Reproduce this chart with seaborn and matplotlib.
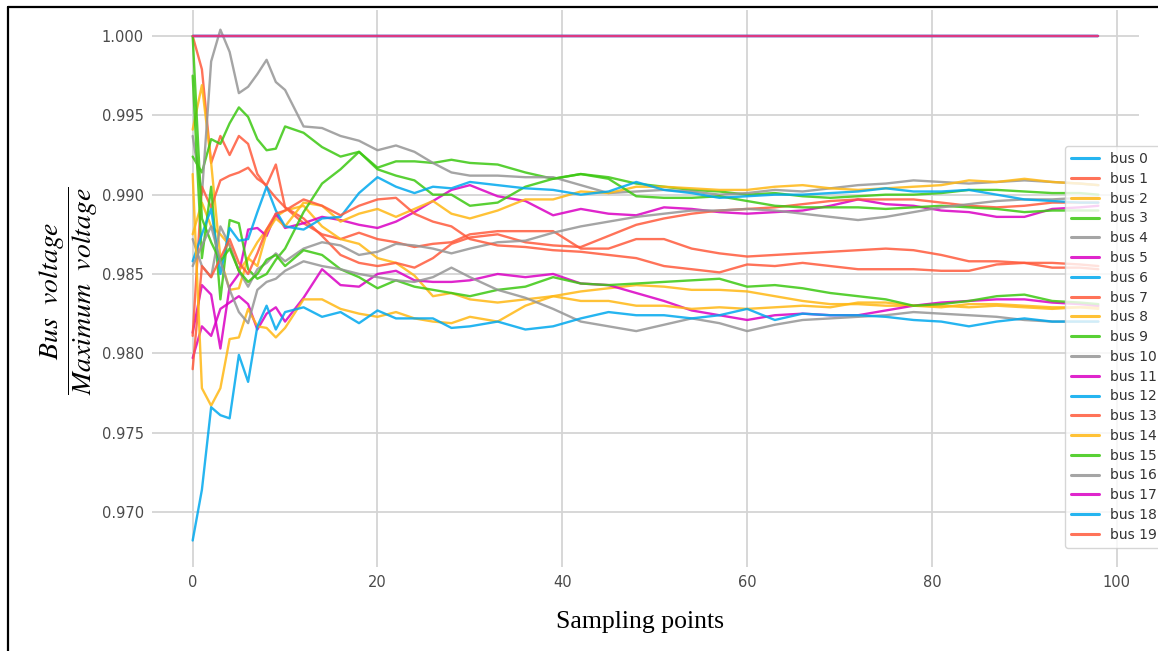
import matplotlib
matplotlib.use("Agg")
import matplotlib.pyplot as plt
import seaborn as sns
import numpy as np
import pandas as pd
from matplotlib.lines import Line2D

# ---------------- data ----------------
SAMPLES = [0, 1, 2, 3, 4, 5, 6, 7, 8, 9, 10,
           12, 14, 16, 18, 20, 22, 24, 26, 28, 30,
           33, 36, 39, 42, 45, 48, 51, 54, 57, 60, 63, 66, 69, 72, 75, 78,
           81, 84, 87, 90, 93, 96, 98]

# slack / fixed-voltage buses sit on 1.000 for the whole run
SLACK_LEVEL = [1.000, 1.000, 1.000, 1.000, 1.000, 1.000, 1.000, 1.000, 1.000, 1.000, 1.000,
               1.000, 1.000, 1.000, 1.000, 1.000, 1.000, 1.000, 1.000, 1.000, 1.000,
               1.000, 1.000, 1.000, 1.000, 1.000, 1.000, 1.000, 1.000, 1.000, 1.000, 1.000,
               1.000, 1.000, 1.000, 1.000, 1.000, 1.000, 1.000, 1.000, 1.000, 1.000, 1.000, 1.000]

BUS_0 = SLACK_LEVEL
BUS_6 = SLACK_LEVEL
BUS_17 = SLACK_LEVEL
BUS_19 = SLACK_LEVEL

BUS_1 = [1.0000, 0.9979, 0.9920, 0.9937, 0.9925, 0.9937, 0.9932, 0.9913, 0.9905, 0.9898, 0.9892,
         0.9882, 0.9875, 0.9872, 0.9876, 0.9872, 0.9870, 0.9867, 0.9869, 0.9870, 0.9875,
         0.9877, 0.9877, 0.9877, 0.9866, 0.9866, 0.9872, 0.9872, 0.9866, 0.9863, 0.9861, 0.9862,
         0.9863, 0.9864, 0.9865, 0.9866, 0.9865, 0.9862, 0.9858, 0.9858, 0.9857, 0.9857, 0.9856, 0.9855]
BUS_2 = [0.9941, 0.9969, 0.9920, 0.9860, 0.9840, 0.9841, 0.9860, 0.9870, 0.9878, 0.9886, 0.9890,
         0.9893, 0.9880, 0.9872, 0.9869, 0.9860, 0.9857, 0.9849, 0.9836, 0.9838, 0.9834,
         0.9832, 0.9834, 0.9836, 0.9839, 0.9841, 0.9843, 0.9842, 0.9840, 0.9840, 0.9839, 0.9836,
         0.9833, 0.9831, 0.9831, 0.9830, 0.9830, 0.9830, 0.9829, 0.9830, 0.9829, 0.9828, 0.9829, 0.9829]
BUS_3 = [0.9924, 0.9914, 0.9935, 0.9932, 0.9945, 0.9955, 0.9949, 0.9935, 0.9928, 0.9929, 0.9943,
         0.9939, 0.9930, 0.9924, 0.9927, 0.9917, 0.9921, 0.9921, 0.9920, 0.9922, 0.9920,
         0.9919, 0.9914, 0.9910, 0.9913, 0.9911, 0.9907, 0.9905, 0.9903, 0.9902, 0.9900, 0.9901,
         0.9899, 0.9898, 0.9899, 0.9900, 0.9900, 0.9901, 0.9903, 0.9903, 0.9902, 0.9901, 0.9901, 0.9900]
BUS_4 = [0.9937, 0.9900, 0.9984, 1.0004, 0.9990, 0.9964, 0.9968, 0.9976, 0.9985, 0.9971, 0.9966,
         0.9943, 0.9942, 0.9937, 0.9934, 0.9928, 0.9931, 0.9927, 0.9920, 0.9914, 0.9912,
         0.9912, 0.9911, 0.9911, 0.9906, 0.9901, 0.9902, 0.9903, 0.9902, 0.9900, 0.9901, 0.9903,
         0.9902, 0.9904, 0.9906, 0.9907, 0.9909, 0.9908, 0.9907, 0.9908, 0.9909, 0.9908, 0.9907, 0.9906]
BUS_5 = [0.9813, 0.9843, 0.9837, 0.9803, 0.9842, 0.9850, 0.9878, 0.9879, 0.9874, 0.9888, 0.9879,
         0.9882, 0.9886, 0.9884, 0.9881, 0.9879, 0.9883, 0.9889, 0.9896, 0.9903, 0.9906,
         0.9899, 0.9896, 0.9887, 0.9891, 0.9888, 0.9887, 0.9892, 0.9891, 0.9889, 0.9888, 0.9889,
         0.9890, 0.9893, 0.9897, 0.9894, 0.9893, 0.9890, 0.9889, 0.9886, 0.9886, 0.9891, 0.9892, 0.9893]
BUS_7 = [0.9811, 0.9905, 0.9892, 0.9909, 0.9912, 0.9914, 0.9917, 0.9910, 0.9906, 0.9919, 0.9892,
         0.9885, 0.9874, 0.9862, 0.9857, 0.9855, 0.9857, 0.9854, 0.9860, 0.9869, 0.9873,
         0.9875, 0.9870, 0.9868, 0.9867, 0.9874, 0.9881, 0.9885, 0.9888, 0.9890, 0.9891, 0.9892,
         0.9894, 0.9896, 0.9897, 0.9897, 0.9897, 0.9895, 0.9893, 0.9892, 0.9893, 0.9895, 0.9895, 0.9895]
BUS_8 = [0.9875, 0.9895, 0.9880, 0.9875, 0.9868, 0.9852, 0.9860, 0.9855, 0.9876, 0.9885, 0.9880,
         0.9895, 0.9893, 0.9883, 0.9888, 0.9891, 0.9886, 0.9891, 0.9896, 0.9888, 0.9885,
         0.9890, 0.9897, 0.9897, 0.9902, 0.9901, 0.9905, 0.9905, 0.9904, 0.9903, 0.9903, 0.9905,
         0.9906, 0.9904, 0.9903, 0.9904, 0.9905, 0.9906, 0.9909, 0.9908, 0.9910, 0.9908, 0.9907, 0.9906]
BUS_9 = [0.9975, 0.9860, 0.9905, 0.9834, 0.9884, 0.9882, 0.9853, 0.9847, 0.9850, 0.9859, 0.9866,
         0.9889, 0.9907, 0.9916, 0.9927, 0.9916, 0.9912, 0.9909, 0.9900, 0.9900, 0.9893,
         0.9895, 0.9905, 0.9910, 0.9913, 0.9910, 0.9899, 0.9898, 0.9898, 0.9899, 0.9896, 0.9893,
         0.9892, 0.9892, 0.9892, 0.9891, 0.9892, 0.9893, 0.9892, 0.9891, 0.9889, 0.9890, 0.9890, 0.9890]
BUS_10 = [0.9872, 0.9855, 0.9848, 0.9880, 0.9868, 0.9852, 0.9842, 0.9853, 0.9857, 0.9863, 0.9858,
          0.9866, 0.9870, 0.9868, 0.9862, 0.9864, 0.9869, 0.9868, 0.9866, 0.9863, 0.9866,
          0.9870, 0.9871, 0.9876, 0.9880, 0.9883, 0.9886, 0.9888, 0.9890, 0.9890, 0.9891, 0.9890,
          0.9888, 0.9886, 0.9884, 0.9886, 0.9889, 0.9892, 0.9894, 0.9896, 0.9897, 0.9897, 0.9898, 0.9898]
BUS_11 = [0.9797, 0.9817, 0.9811, 0.9828, 0.9832, 0.9836, 0.9831, 0.9815, 0.9825, 0.9829, 0.9820,
          0.9835, 0.9853, 0.9843, 0.9842, 0.9850, 0.9852, 0.9846, 0.9845, 0.9845, 0.9846,
          0.9850, 0.9848, 0.9850, 0.9844, 0.9843, 0.9838, 0.9833, 0.9827, 0.9824, 0.9821, 0.9824,
          0.9825, 0.9824, 0.9824, 0.9827, 0.9830, 0.9832, 0.9833, 0.9834, 0.9834, 0.9832, 0.9831, 0.9830]
BUS_12 = [0.9858, 0.9875, 0.9891, 0.9850, 0.9879, 0.9871, 0.9872, 0.9889, 0.9905, 0.9890, 0.9880,
          0.9878, 0.9885, 0.9886, 0.9901, 0.9911, 0.9905, 0.9901, 0.9905, 0.9904, 0.9908,
          0.9906, 0.9904, 0.9903, 0.9900, 0.9902, 0.9908, 0.9903, 0.9901, 0.9898, 0.9899, 0.9900,
          0.9900, 0.9901, 0.9902, 0.9904, 0.9902, 0.9902, 0.9903, 0.9900, 0.9897, 0.9896, 0.9895, 0.9895]
BUS_13 = [0.9790, 0.9855, 0.9848, 0.9860, 0.9872, 0.9857, 0.9850, 0.9863, 0.9878, 0.9888, 0.9890,
          0.9897, 0.9893, 0.9887, 0.9893, 0.9897, 0.9898, 0.9888, 0.9883, 0.9880, 0.9872,
          0.9868, 0.9867, 0.9865, 0.9864, 0.9862, 0.9860, 0.9855, 0.9853, 0.9851, 0.9856, 0.9855,
          0.9857, 0.9855, 0.9853, 0.9853, 0.9853, 0.9852, 0.9852, 0.9856, 0.9857, 0.9854, 0.9854, 0.9853]
BUS_14 = [0.9913, 0.9778, 0.9767, 0.9778, 0.9809, 0.9810, 0.9828, 0.9817, 0.9816, 0.9810, 0.9816,
          0.9834, 0.9834, 0.9828, 0.9825, 0.9823, 0.9826, 0.9822, 0.9820, 0.9819, 0.9823,
          0.9820, 0.9830, 0.9836, 0.9833, 0.9833, 0.9830, 0.9830, 0.9828, 0.9829, 0.9828, 0.9829,
          0.9830, 0.9829, 0.9832, 0.9832, 0.9830, 0.9829, 0.9831, 0.9831, 0.9830, 0.9829, 0.9829, 0.9828]
BUS_15 = [1.0000, 0.9885, 0.9870, 0.9858, 0.9866, 0.9852, 0.9845, 0.9850, 0.9859, 0.9862, 0.9855,
          0.9865, 0.9862, 0.9853, 0.9848, 0.9841, 0.9846, 0.9842, 0.9840, 0.9838, 0.9836,
          0.9840, 0.9842, 0.9848, 0.9844, 0.9843, 0.9844, 0.9845, 0.9846, 0.9847, 0.9842, 0.9843,
          0.9841, 0.9838, 0.9836, 0.9834, 0.9830, 0.9831, 0.9833, 0.9836, 0.9837, 0.9833, 0.9832, 0.9831]
BUS_16 = [0.9855, 0.9868, 0.9880, 0.9858, 0.9840, 0.9826, 0.9819, 0.9840, 0.9845, 0.9847, 0.9852,
          0.9858, 0.9855, 0.9853, 0.9850, 0.9848, 0.9846, 0.9845, 0.9848, 0.9854, 0.9848,
          0.9840, 0.9835, 0.9828, 0.9820, 0.9817, 0.9814, 0.9818, 0.9822, 0.9819, 0.9814, 0.9818,
          0.9821, 0.9822, 0.9823, 0.9824, 0.9826, 0.9825, 0.9824, 0.9823, 0.9821, 0.9820, 0.9820, 0.9820]
BUS_18 = [0.9682, 0.9714, 0.9766, 0.9761, 0.9759, 0.9799, 0.9782, 0.9817, 0.9830, 0.9815, 0.9826,
          0.9829, 0.9823, 0.9826, 0.9819, 0.9827, 0.9822, 0.9822, 0.9822, 0.9816, 0.9817,
          0.9820, 0.9815, 0.9817, 0.9822, 0.9826, 0.9824, 0.9824, 0.9822, 0.9824, 0.9828, 0.9821,
          0.9825, 0.9824, 0.9824, 0.9823, 0.9821, 0.9820, 0.9817, 0.9820, 0.9822, 0.9820, 0.9820, 0.9820]

BUS_NAMES = ["bus %d" % i for i in range(20)]
SERIES = [BUS_0, BUS_1, BUS_2, BUS_3, BUS_4, BUS_5, BUS_6, BUS_7, BUS_8, BUS_9,
          BUS_10, BUS_11, BUS_12, BUS_13, BUS_14, BUS_15, BUS_16, BUS_17, BUS_18, BUS_19]
PALETTE = ["#00A8EE", "#FF5A3C", "#FFB814", "#3CC812", "#959595", "#DA00C4"]

X_TICKS = [0, 20, 40, 60, 80, 100]
Y_TICKS = [0.970, 0.975, 0.980, 0.985, 0.990, 0.995, 1.000]

# ---------------- figure ----------------
sns.set_theme(style="whitegrid")
plt.rcParams["mathtext.fontset"] = "stix"

frames = [pd.DataFrame({"sample": SAMPLES, "voltage": vals, "bus": name})
          for name, vals in zip(BUS_NAMES, SERIES)]
df = pd.concat(frames, ignore_index=True)
colors = {name: PALETTE[i % 6] for i, name in enumerate(BUS_NAMES)}

W, H = 1158, 651
fig = plt.figure(figsize=(W / 100, H / 100), dpi=100)
fig.patch.set_facecolor("white")
ax = fig.add_axes([152 / W, 1 - 567 / H, (1139 - 152) / W, (567 - 10) / H])
ax.set_facecolor("white")

sns.lineplot(data=df, x="sample", y="voltage", hue="bus", hue_order=BUS_NAMES,
             palette=colors, estimator=None, errorbar=None, sort=False,
             linewidth=1.7, alpha=0.85, ax=ax, legend=False)

# the overlapping 1.000 lines blend into a pink stroke in the reference
flat = [ln for ln in ax.lines if np.allclose(np.asarray(ln.get_ydata(), float), 1.0)]
if flat:
    flat[-1].set_alpha(0.5)

ax.set_xlim(-4.4, 102.4)
ax.set_ylim(0.96653, 1.00164)
ax.set_xticks(X_TICKS)
ax.set_yticks(Y_TICKS)
ax.set_yticklabels(["%.3f" % v for v in Y_TICKS])
ax.set_xticklabels([str(v) for v in X_TICKS])
ax.tick_params(axis="both", labelsize=10.5, colors="#4a4a4a", length=0, pad=6)
ax.grid(True, color="#d4d4d4", linewidth=1.3)
ax.set_xlabel("")
ax.set_ylabel("")
for s in ax.spines.values():
    s.set_visible(False)

handles = [Line2D([0], [0], color=colors[n], lw=2.2, alpha=0.85) for n in BUS_NAMES]
leg = fig.legend(handles, BUS_NAMES, loc="upper left",
                 bbox_to_anchor=(1058 / W, 1 - 139 / H), bbox_transform=fig.transFigure,
                 fontsize=10, labelspacing=0.415, handlelength=2.0, handletextpad=0.8,
                 borderpad=0.45, frameon=True, fancybox=True, framealpha=0.8)
leg.get_frame().set_edgecolor("#cccccc")
for t in leg.get_texts():
    t.set_color("#333333")

fig.text(69 / W, 1 - 291 / H, r"$\dfrac{Bus\ \ voltage}{Maximum\ \ voltage}$",
         rotation=90, ha="center", va="center", fontsize=20, color="black")
fig.text(640 / W, 1 - 622 / H, "Sampling points", ha="center", va="center",
         fontsize=18.5, family=["Liberation Serif", "DejaVu Serif"], color="black")

# frame around the figure (left and top edges visible in the reference)
fig.add_artist(Line2D([8 / W, 8 / W], [0, 1 - 7 / H], transform=fig.transFigure,
                      color="black", lw=1.6))
fig.add_artist(Line2D([8 / W, 1], [1 - 7 / H, 1 - 7 / H], transform=fig.transFigure,
                      color="black", lw=1.6))

fig.savefig("out.png", dpi=100)
